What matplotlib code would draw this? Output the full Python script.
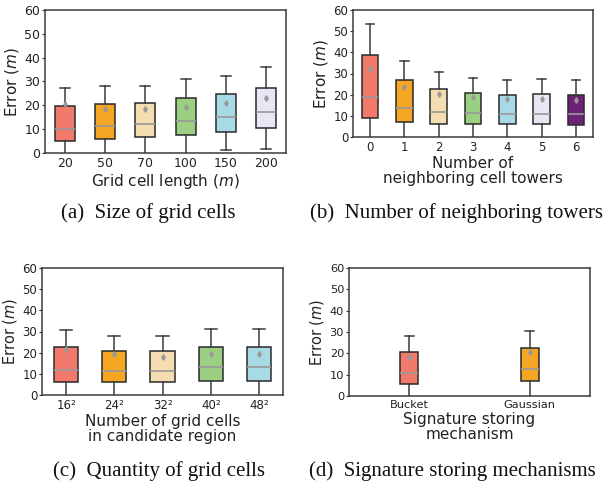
import matplotlib
matplotlib.use("Agg")
import matplotlib.pyplot as plt

# box statistics (error in metres)
a_labels = ["20", "50", "70", "100", "150", "200"]
a_lo = [0.0, 0.0, 0.0, 0.0, 1.3, 1.7]
a_q1 = [5.0, 6.0, 6.8, 7.4, 8.9, 10.3]
a_med = [9.9, 11.2, 12.0, 13.4, 15.2, 17.2]
a_q3 = [19.8, 20.6, 20.8, 23.0, 24.6, 27.3]
a_hi = [27.3, 28.0, 28.0, 31.1, 32.2, 35.9]
a_mean = [20.6, 18.3, 18.3, 19.5, 20.9, 22.9]

b_labels = ["0", "1", "2", "3", "4", "5", "6"]
b_lo = [0.0, 0.0, 0.0, 0.0, 0.0, 0.0, 0.0]
b_q1 = [9.1, 7.1, 6.3, 6.1, 6.0, 6.0, 5.7]
b_med = [19.0, 13.7, 11.8, 11.2, 10.8, 10.8, 10.7]
b_q3 = [38.6, 26.7, 22.6, 20.6, 19.8, 20.1, 19.8]
b_hi = [53.4, 36.1, 30.9, 27.8, 26.9, 27.2, 27.0]
b_mean = [32.2, 23.4, 20.1, 18.7, 18.1, 18.1, 17.7]

c_labels = ["16²", "24²", "32²", "40²", "48²"]
c_lo = [0.0, 0.0, 0.0, 0.0, 0.0]
c_q1 = [6.3, 6.0, 6.0, 6.8, 6.8]
c_med = [11.8, 11.2, 11.2, 13.0, 13.0]
c_q3 = [22.6, 20.6, 20.6, 22.8, 22.8]
c_hi = [30.9, 27.8, 28.0, 31.1, 31.1]
c_mean = [21.7, 19.2, 18.1, 19.5, 19.5]

d_labels = ["Bucket", "Gaussian"]
d_lo = [0.0, 0.0]
d_q1 = [5.8, 6.9]
d_med = [11.0, 12.6]
d_q3 = [20.6, 22.5]
d_hi = [28.0, 30.3]
d_mean = [18.1, 20.4]

colors = ["#F27A6C", "#F5A623", "#F4DEB1", "#9BD082", "#A8DAE6", "#E6E6F5", "#6E2277"]

W, H = 606, 491
fig = plt.figure(figsize=(W / 100, H / 100), dpi=100)


def px_axes(left, top, right, bottom):
    return fig.add_axes([left / W, (H - bottom) / H, (right - left) / W, (bottom - top) / H])


def draw(ax, labels, lo, q1, med, q3, hi, mean, width, xlabel, tsize, lsize):
    stats = []
    for i in range(len(labels)):
        stats.append(dict(whislo=lo[i], q1=q1[i], med=med[i], q3=q3[i],
                          whishi=hi[i], mean=mean[i], fliers=[]))
    pos = list(range(len(labels)))
    bp = ax.bxp(stats, positions=pos, widths=width, patch_artist=True,
                showmeans=True, showfliers=False,
                boxprops=dict(edgecolor="#2a2a2a", linewidth=1.1),
                medianprops=dict(color="#999999", linewidth=1.2),
                whiskerprops=dict(color="#3a3a3a", linewidth=1.1),
                capprops=dict(color="#3a3a3a", linewidth=1.1),
                meanprops=dict(marker="d", markersize=2.8, markerfacecolor="#999999",
                               markeredgecolor="#999999"))
    for patch, c in zip(bp["boxes"], colors):
        patch.set_facecolor(c)
    # lower caps sitting on the axis are hidden under the spine in the original
    for i, cap in enumerate(bp["caps"][0::2]):
        if lo[i] == 0:
            cap.set_visible(False)
    ax.set_xlim(-0.5, len(labels) - 0.5)
    ax.set_ylim(0, 60)
    ax.set_yticks([0, 10, 20, 30, 40, 50, 60])
    ax.set_xticks(pos)
    ax.set_xticklabels(labels)
    ax.tick_params(labelsize=tsize, width=0.8, colors="#333333", labelcolor="#222222")
    ax.tick_params(axis="y", length=2.5, pad=1)
    ax.tick_params(axis="x", length=0, pad=3)
    for s in ax.spines.values():
        s.set_color("#3a3a3a")
        s.set_linewidth(1.1)
    ax.set_ylabel("Error ($m$)", fontsize=lsize, color="#222222", labelpad=2.5)
    ax.set_xlabel(xlabel, fontsize=11, color="#222222", labelpad=1, linespacing=1.0)


ax_a = px_axes(45, 10, 286, 153)
draw(ax_a, a_labels, a_lo, a_q1, a_med, a_q3, a_hi, a_mean, 0.5,
     "Grid cell length ($m$)", 9, 11)
ax_b = px_axes(353, 10, 593, 137)
draw(ax_b, b_labels, b_lo, b_q1, b_med, b_q3, b_hi, b_mean, 0.48,
     "Number of\nneighboring cell towers", 8.5, 11)
ax_c = px_axes(42, 268, 283, 395)
draw(ax_c, c_labels, c_lo, c_q1, c_med, c_q3, c_hi, c_mean, 0.5,
     "Number of grid cells\nin candidate region", 8.5, 10.5)
ax_d = px_axes(349, 268, 590, 396)
draw(ax_d, d_labels, d_lo, d_q1, d_med, d_q3, d_hi, d_mean, 0.15,
     "Signature storing\nmechanism", 8.2, 10.5)

cap = dict(fontsize=15, family="Liberation Serif", ha="center", va="center", color="#111111")
fig.text(148 / W, 1 - 213 / H, "(a)  Size of grid cells", **cap)
fig.text(456 / W, 1 - 213 / H, "(b)  Number of neighboring towers", **cap)
fig.text(159 / W, 1 - 471 / H, "(c)  Quantity of grid cells", **cap)
fig.text(452 / W, 1 - 471 / H, "(d)  Signature storing mechanisms", **cap)

fig.savefig("out.png", dpi=100)
